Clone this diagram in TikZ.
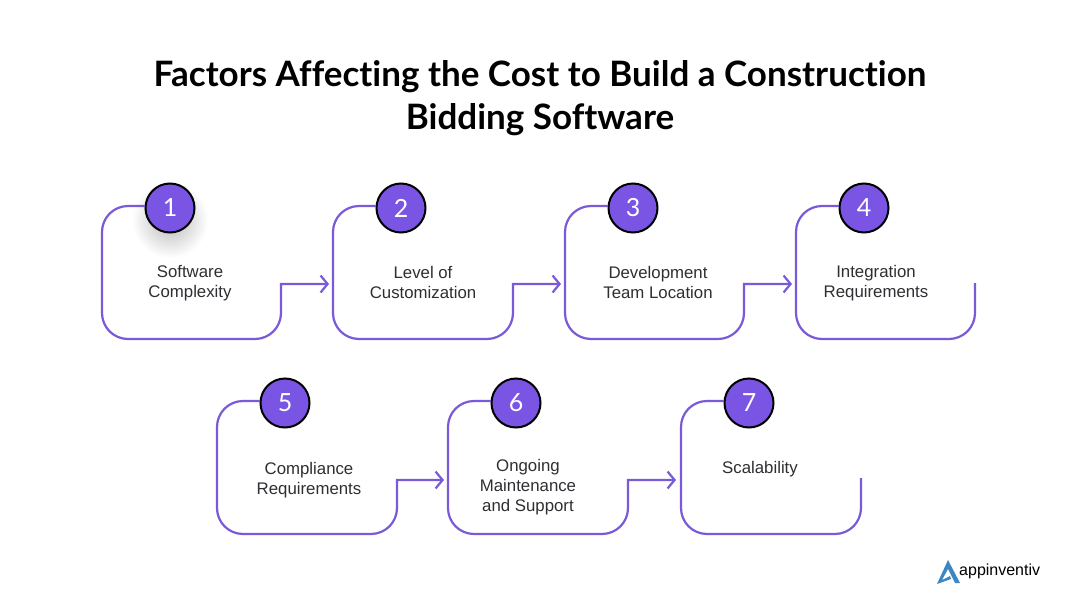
\documentclass[tikz,border=0pt]{standalone}
\usepackage{fontspec}
\setmainfont{Liberation Sans}
\newfontfamily\titlefont[Ligatures=CommonOff]{Lato}
\usetikzlibrary{arrows.meta}
\definecolor{flowpurple}{HTML}{7B5AD9}
\definecolor{numfill}{HTML}{7A55E3}
\definecolor{logoblue}{HTML}{3C86C4}
\definecolor{inktext}{HTML}{2F2F33}
\tikzset{
  numdot/.style={draw=black, line width=2pt, fill=numfill, circle, minimum size=49pt, inner sep=0pt, text=white, font=\titlefont\fontsize{25}{25}\selectfont},
  factor/.style={align=center, text=inktext, font=\fontsize{16.8}{20}\selectfont},
  flowline/.style={draw=flowpurple, line width=2.2pt, rounded corners=26pt},
  flowtip/.style={-{Straight Barb[length=7pt,width=17pt,line width=2.2pt]}},
}
\begin{document}
\begin{tikzpicture}[x=1pt, y=-1pt]
\useasboundingbox (0,0) rectangle (1080,616);
\fill[white] (0,0) rectangle (1080,616);

% Title
\node[font=\titlefont\bfseries\fontsize{35}{43}\selectfont, align=center] (title) at (540,98) {Factors Affecting the Cost to Build a Construction\\Bidding Software};

% Shadow under the first number
\shade[inner color=black!28, outer color=white] (170,220) circle (38);

% Numbers
\node[numdot] (n1) at (170,208) {1};
\node[numdot] (n2) at (401,208) {2};
\node[numdot] (n3) at (633,208) {3};
\node[numdot] (n4) at (864,208) {4};
\node[numdot] (n5) at (285,403) {5};
\node[numdot] (n6) at (516,403) {6};
\node[numdot] (n7) at (749,403) {7};

% Arrow ends and free ends
\coordinate (tip2) at (329,284);
\coordinate (tip3) at (561,284);
\coordinate (tip4) at (792,284);
\coordinate (end4) at (975,283);
\coordinate (tip6) at (444,480);
\coordinate (tip7) at (676,480);
\coordinate (end7) at (861,478);

% Labels
\node[factor] (t1) at (190,283) {Software\\Complexity};
\node[factor] (t2) at (423,282.5) {Level of\\Customization};
\node[factor] (t3) at (658,282.5) {Development\\Team Location};
\node[factor] (t4) at (876,283) {Integration\\Requirements};
\node[factor] (t5) at (309,480) {Compliance\\Requirements};
\node[factor] (t6) at (528,487) {Ongoing\\Maintenance\\and Support};
\node[factor] (t7) at (760,469.5) {Scalability};

% Row 1
\draw[flowline, flowtip] (n1) ++(-25,-2) -- (102,206) -- (102,339) -- (281,339) [sharp corners] -- (281,284) -- (tip2);
\draw[flowline, flowtip] (n2) ++(-25,-2) -- (333,206) -- (333,339) -- (513,339) [sharp corners] -- (513,284) -- (tip3);
\draw[flowline, flowtip] (n3) ++(-25,-2) -- (565,206) -- (565,339) -- (744,339) [sharp corners] -- (744,284) -- (tip4);
\draw[flowline] (n4) ++(-25,-2) -- (796,206) -- (796,339) -- (975,339) -- (end4);

% Row 2
\draw[flowline, flowtip] (n5) ++(-25,-2) -- (217,401) -- (217,534) -- (397,534) [sharp corners] -- (397,480) -- (tip6);
\draw[flowline, flowtip] (n6) ++(-25,-2) -- (448,401) -- (448,534) -- (628,534) [sharp corners] -- (628,480) -- (tip7);
\draw[flowline] (n7) ++(-25,-2) -- (681,401) -- (681,534) -- (861,534) -- (end7);

% Logo
\fill[logoblue] (948,560) -- (960,583) -- (955,583) -- (948,569) -- (942,580) -- (950,576) -- (951,579) -- (937,584) -- cycle;
\node[font=\fontsize{16}{16}\selectfont, text=black, anchor=west, inner sep=0pt] (logo) at (959,571) {appinventiv};
\end{tikzpicture}
\end{document}
